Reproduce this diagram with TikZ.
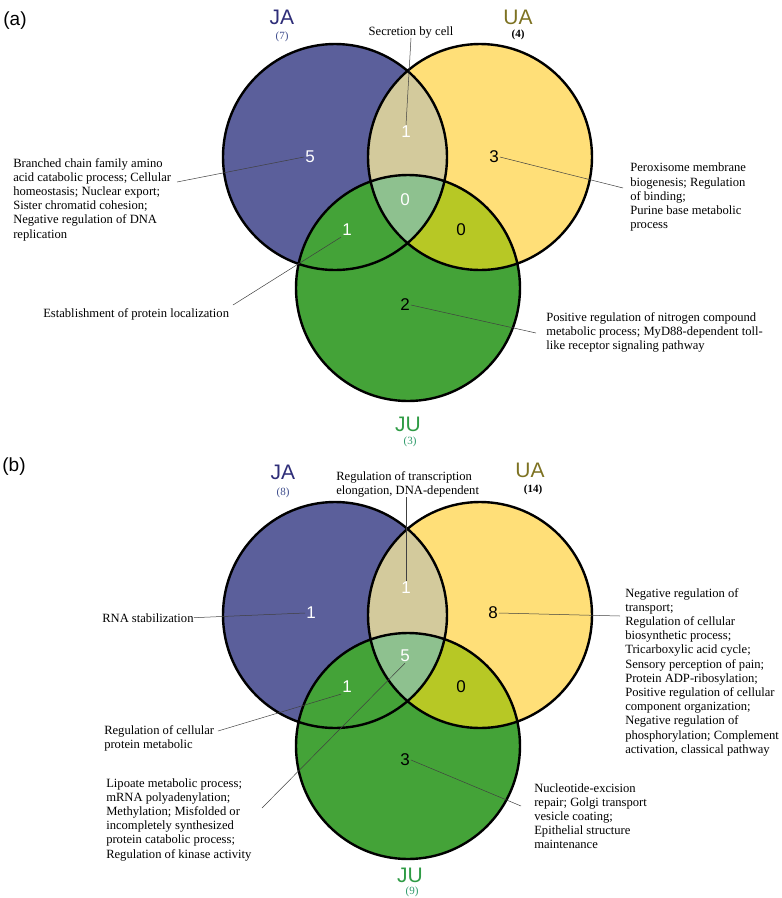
\documentclass[tikz,border=0pt]{standalone}
\usepackage{fontspec}
\setmainfont{Liberation Serif}
\setsansfont{Liberation Sans}
\usepackage{tikz}
\definecolor{jaBlue}{HTML}{5B5F9B}
\definecolor{uaYel}{HTML}{FFDF78}
\definecolor{juGreen}{HTML}{44A338}
\definecolor{jaua}{HTML}{D3CA9C}
\definecolor{uaju}{HTML}{B7C825}
\definecolor{allThree}{HTML}{8EC18F}
\definecolor{jaText}{HTML}{2E2D78}
\definecolor{jaCnt}{HTML}{3E4C8C}
\definecolor{uaText}{HTML}{7D7222}
\definecolor{juText}{HTML}{2F9B45}
\definecolor{juCnt}{HTML}{2E9A6A}
\tikzset{vd/.style={x=1pt,y=-1pt,line width=.5pt},
  num/.style={font=\sffamily\fontsize{17}{17}\selectfont,inner sep=1pt},
  setlab/.style={font=\sffamily\fontsize{21}{21}\selectfont,inner sep=0pt},
  cnt/.style={font=\fontsize{11}{11}\selectfont,inner sep=0pt},
  go/.style={font=\fontsize{12.6}{14.2}\selectfont,align=left,anchor=north west,inner sep=0pt},
  lead/.style={black!75,line width=.5pt},
  ring/.style={line width=2.4pt},
  rr/.style={x radius=112,y radius=113}}

\begin{document}
\begin{tikzpicture}[vd]
  \useasboundingbox (0,0) rectangle (782,898);
  % the two three-set diagrams
  \foreach \oy in {0,458}{
    \fill[jaBlue] (335,157+\oy) ellipse[rr];
    \fill[uaYel] (480,157+\oy) ellipse[rr];
    \begin{scope}\clip (335,157+\oy) ellipse[rr];\fill[jaua] (480,157+\oy) ellipse[rr];\end{scope}
    \fill[juGreen] (408,288+\oy) ellipse[rr];
    \begin{scope}\clip (480,157+\oy) ellipse[rr];\fill[uaju] (408,288+\oy) ellipse[rr];
      \clip (335,157+\oy) ellipse[rr];\fill[allThree] (408,288+\oy) ellipse[rr];\end{scope}
    \draw[ring] (335,157+\oy) ellipse[rr] (480,157+\oy) ellipse[rr] (408,288+\oy) ellipse[rr];
  }
  % (a)
  \node[font=\sffamily\fontsize{19}{19}\selectfont] (pa) at (15,21){(a)};
  \node[setlab,jaText] (aJAl) at (282,17){JA};\node[cnt,jaCnt] (aJAc) at (282,37){(7)};
  \node[setlab,uaText] (aUAl) at (518,17){UA};\node[cnt,font=\bfseries\fontsize{11}{11}\selectfont] (aUAc) at (518,35){(4)};
  \node[setlab,juText] (aJUl) at (408,424){JU};\node[cnt,juCnt] (aJUc) at (410,442){(3)};
  \node[num,white] (aJA) at (310,157){5};
  \node[num,white] (aJAUA) at (406,132){1};
  \node[num] (aUA) at (494,157){3};
  \node[num,white] (aAll) at (405,200){0};
  \node[num,white] (aJAJU) at (347,230){1};
  \node[num] (aUAJU) at (461,230){0};
  \node[num] (aJU) at (405,305){2};
  \node[go,anchor=center] (tJAUA) at (411,32){Secretion by cell};
  \node[go] (tJA) at (13,158){Branched chain family amino\\acid catabolic process; Cellular\\homeostasis; Nuclear export;\\Sister chromatid cohesion;\\Negative regulation of DNA\\replication};
  \node[go] (tJAJU) at (43,308){Establishment of protein localization};
  \node[go] (tUA) at (630,163){Peroxisome membrane\\biogenesis; Regulation\\of binding;\\Purine base metabolic\\process};
  \node[go] (tJU) at (546,312){Positive regulation of nitrogen compound\\metabolic process; MyD88-dependent toll-\\like receptor signaling pathway};
  \coordinate (cJA) at (177,182);\coordinate (cJAJU) at (233,305);
  \coordinate (cUA) at (623,188);\coordinate (cJU) at (536,333);
  \draw[lead] (aJAUA.north) -- (tJAUA.south);
  \draw[lead] (aJA.west) -- (cJA);
  \draw[lead] (aJAJU.south west) -- (cJAJU);
  \draw[lead] (aUA.east) -- (cUA);
  \draw[lead] (aJU.east) -- (cJU);
  % (b)
  \node[font=\sffamily\fontsize{19}{19}\selectfont] (pb) at (14,467){(b)};
  \node[setlab,jaText] (bJAl) at (283,472){JA};\node[cnt,jaCnt] (bJAc) at (283,493){(8)};
  \node[setlab,uaText] (bUAl) at (530,470){UA};\node[cnt,font=\bfseries\fontsize{11}{11}\selectfont] (bUAc) at (533,490){(14)};
  \node[setlab,juText] (bJUl) at (410,875){JU};\node[cnt,juCnt] (bJUc) at (412,892){(9)};
  \node[num,white] (bJA) at (311,613){1};
  \node[num,white] (bJAUA) at (406,588){1};
  \node[num] (bUA) at (493,613){8};
  \node[num,white] (bAll) at (405,656){5};
  \node[num,white] (bJAJU) at (347,687){1};
  \node[num] (bUAJU) at (461,687){0};
  \node[num] (bJU) at (405,760){3};
  \node[go] (uJAUA) at (336,471){Regulation of transcription\\elongation, DNA-dependent};
  \node[go] (uJA) at (102,613){RNA stabilization};
  \node[go] (uJAJU) at (104,725){Regulation of cellular\\protein metabolic};
  \node[go] (uAll) at (106,778){Lipoate metabolic process;\\mRNA polyadenylation;\\Methylation; Misfolded or\\incompletely synthesized\\protein catabolic process;\\Regulation of kinase activity};
  \node[go] (uUA) at (625,588){Negative regulation of\\transport;\\Regulation of cellular\\biosynthetic process;\\Tricarboxylic acid cycle;\\Sensory perception of pain;\\Protein ADP-ribosylation;\\Positive regulation of cellular\\component organization;\\Negative regulation of\\phosphorylation; Complement\\activation, classical pathway};
  \node[go] (uJU) at (534,783){Nucleotide-excision\\repair; Golgi transport\\vesicle coating;\\Epithelial structure\\maintenance};
  \coordinate (dJAJU) at (218,731);\coordinate (dAll) at (262,808);
  \coordinate (dUA) at (620,616);\coordinate (dJU) at (521,806);
  \draw[lead] (bJAUA.north) -- (uJAUA.south-|bJAUA);
  \draw[lead] (bJA.west) -- (uJA.east);
  \draw[lead] (bJAJU.south west) -- (dJAJU);
  \draw[lead] (bAll.south) -- (dAll);
  \draw[lead] (bUA.east) -- (dUA);
  \draw[lead] (bJU.east) -- (dJU);
\end{tikzpicture}
\end{document}
